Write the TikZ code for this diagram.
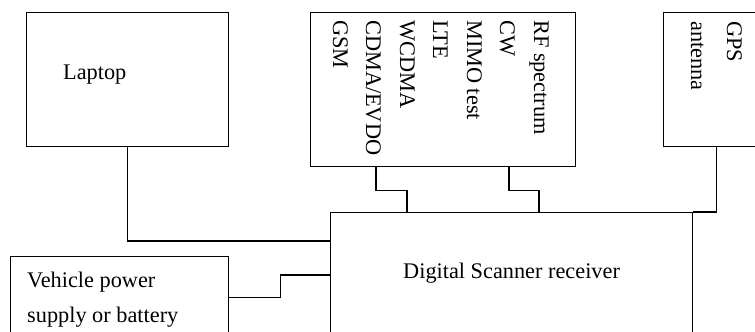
\documentclass[tikz,border=0pt]{standalone}
\usepackage{fontspec}
\setmainfont{Liberation Serif}
\usetikzlibrary{calc}
\begin{document}
\begin{tikzpicture}[x=1bp,y=-1bp,
  box/.style={draw,line width=1.2bp,rectangle,inner sep=0pt,anchor=north west},
  wire/.style={draw,line width=1.2bp,line cap=rect},
  lbl/.style={inner sep=0pt,font=\fontsize{22.3bp}{34bp}\selectfont},
  vlbl/.style={lbl,rotate=-90,anchor=base west}]
\useasboundingbox (0,0) rectangle (755,331);
\clip (0,0) rectangle (755,331);
% boxes
\node[box,minimum width=202bp,minimum height=134bp] (laptop) at (26,12) {};
\node[box,minimum width=265bp,minimum height=154bp] (mid) at (310,12) {};
\node[box,minimum width=106bp,minimum height=134bp] (gps) at (663,12) {};
\node[box,minimum width=362bp,minimum height=140bp] (scanner) at (330,212) {};
\node[box,minimum width=218bp,minimum height=82bp] (vehicle) at (10,256) {};
% labels
\node[lbl,anchor=base west] (tlaptop) at (63,79) {Laptop};
\node[lbl,anchor=base west] (tscan) at (403,278) {Digital Scanner receiver};
\node[lbl,anchor=base west] (tveh1) at (27,287) {Vehicle power};
\node[lbl,anchor=base west] (tveh2) at (27,322) {supply or battery};
\node[vlbl] (t1) at (534,20) {RF spectrum};
\node[vlbl] (t2) at (500,20) {CW};
\node[vlbl] (t3) at (467,20) {MIMO test};
\node[vlbl] (t4) at (433,20) {LTE};
\node[vlbl] (t5) at (400,20) {WCDMA};
\node[vlbl] (t6) at (366,20) {CDMA/EVDO};
\node[vlbl] (t7) at (333,20) {GSM};
\node[vlbl] (g1) at (727,21) {GPS};
\node[vlbl] (g2) at (691,21) {antenna};
% connectors
\draw[wire] (laptop.south) |- ($(scanner.north west)+(0,29)$);
\draw[wire] (vehicle.east) -- ++(51,0) |- ($(scanner.north west)+(0,63)$);
\draw[wire] ($(mid.south west)+(66,0)$) -- ++(0,23) -| ($(scanner.north west)+(77,0)$);
\draw[wire] ($(mid.south west)+(199,0)$) -- ++(0,23) -| ($(scanner.north west)+(209,0)$);
\draw[wire] (gps.south) |- (scanner.north east);
\end{tikzpicture}
\end{document}
